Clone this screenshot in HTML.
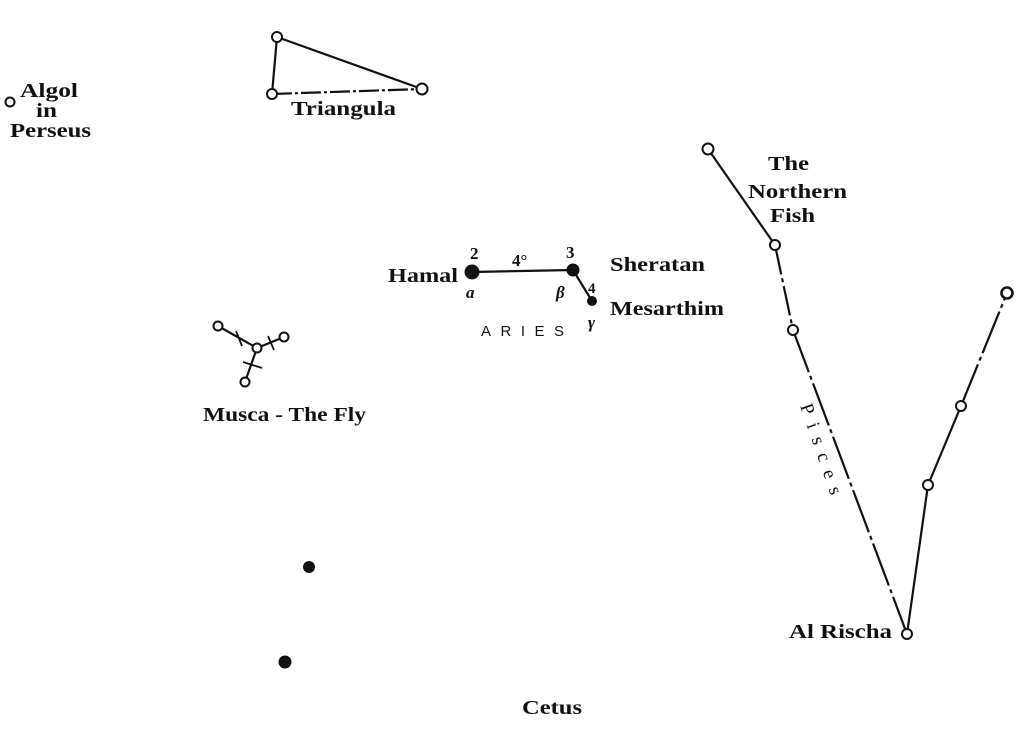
<!DOCTYPE html>
<html><head><style>body{margin:0;background:#fff}svg{display:block}</style></head><body>
<svg width="1024" height="737" viewBox="0 0 1024 737" xmlns="http://www.w3.org/2000/svg" font-family="Liberation Serif, serif" font-weight="bold" fill="#111">
<g stroke="#111" stroke-width="2.2" fill="none">
<polyline points="277,37 422,89"/>
<line x1="277" y1="37" x2="272" y2="94"/>
<line x1="272" y1="94" x2="422" y2="89" stroke-dasharray="20,3,3,3"/>
<line x1="472" y1="272" x2="573" y2="270"/>
<line x1="573" y1="270" x2="592" y2="301"/>
<line x1="218" y1="326" x2="257" y2="348"/>
<line x1="257" y1="348" x2="284" y2="337"/>
<line x1="257" y1="348" x2="245" y2="382"/>
<line x1="708" y1="149" x2="775" y2="245"/>
<line x1="775" y1="245" x2="793" y2="330" stroke-dasharray="30,4,4,4"/>
<line x1="793" y1="330" x2="907" y2="634" stroke-dasharray="45,4,4,4"/>
<line x1="907" y1="634" x2="928" y2="485"/>
<line x1="928" y1="485" x2="961" y2="406"/>
<line x1="961" y1="406" x2="1007" y2="293" stroke-dasharray="45,4,4,4"/>
</g>
<g stroke="#111" stroke-width="1.8" fill="none">
<line x1="236" y1="331" x2="242" y2="346"/>
<line x1="268" y1="336" x2="274" y2="350"/>
<line x1="243" y1="362" x2="262" y2="368"/>
</g>
<g fill="#fff" stroke="#111" stroke-width="2">
<circle cx="10" cy="102" r="4.5"/>
<circle cx="277" cy="37" r="5"/>
<circle cx="272" cy="94" r="5"/>
<circle cx="422" cy="89" r="5.5"/>
<circle cx="218" cy="326" r="4.5"/>
<circle cx="257" cy="348" r="4.5"/>
<circle cx="284" cy="337" r="4.5"/>
<circle cx="245" cy="382" r="4.5"/>
<circle cx="708" cy="149" r="5.5"/>
<circle cx="775" cy="245" r="5"/>
<circle cx="793" cy="330" r="5"/>
<circle cx="907" cy="634" r="5"/>
<circle cx="928" cy="485" r="5"/>
<circle cx="961" cy="406" r="5"/>
<circle cx="1007" cy="293" r="5.5" stroke-width="2.6"/>
</g>
<circle cx="472" cy="272" r="7.5"/>
<circle cx="573" cy="270" r="6.5"/>
<circle cx="592" cy="301" r="5"/>
<circle cx="309" cy="567" r="6"/>
<circle cx="285" cy="662" r="6.5"/>
<g font-size="20" lengthAdjust="spacingAndGlyphs">
<text x="20" y="97" textLength="58" lengthAdjust="spacingAndGlyphs">Algol</text>
<text x="36" y="117" textLength="21" lengthAdjust="spacingAndGlyphs">in</text>
<text x="10" y="137" textLength="81" lengthAdjust="spacingAndGlyphs">Perseus</text>
<text x="291" y="115" textLength="105" lengthAdjust="spacingAndGlyphs">Triangula</text>
<text x="768" y="170" textLength="41" lengthAdjust="spacingAndGlyphs">The</text>
<text x="748" y="198" textLength="99" lengthAdjust="spacingAndGlyphs">Northern</text>
<text x="770" y="222" textLength="45" lengthAdjust="spacingAndGlyphs">Fish</text>
<text x="388" y="282" textLength="70" lengthAdjust="spacingAndGlyphs">Hamal</text>
<text x="610" y="271" textLength="95" lengthAdjust="spacingAndGlyphs">Sheratan</text>
<text x="610" y="315" textLength="114" lengthAdjust="spacingAndGlyphs">Mesarthim</text>
<text x="203" y="421" textLength="163" lengthAdjust="spacingAndGlyphs">Musca - The Fly</text>
<text x="789" y="638" textLength="103" lengthAdjust="spacingAndGlyphs">Al Rischa</text>
<text x="522" y="714" textLength="60" lengthAdjust="spacingAndGlyphs">Cetus</text>
</g>
<g font-size="17">
<text x="470" y="259">2</text>
<text x="566" y="258">3</text>
<text x="512" y="266">4°</text>
<text x="588" y="293" font-size="15">4</text>
<text x="466" y="298" font-style="italic">a</text>
<text x="556" y="298" font-style="italic">β</text>
<text x="588" y="328" font-style="italic">γ</text>
</g>
<text x="481" y="336" font-family="Liberation Sans, sans-serif" font-weight="normal" font-size="15" textLength="83" lengthAdjust="spacing">ARIES</text>
<text x="0" y="0" font-size="19" font-weight="normal" textLength="95" lengthAdjust="spacing" transform="translate(800,406) rotate(71)">Pisces</text>
</svg>
</body></html>
